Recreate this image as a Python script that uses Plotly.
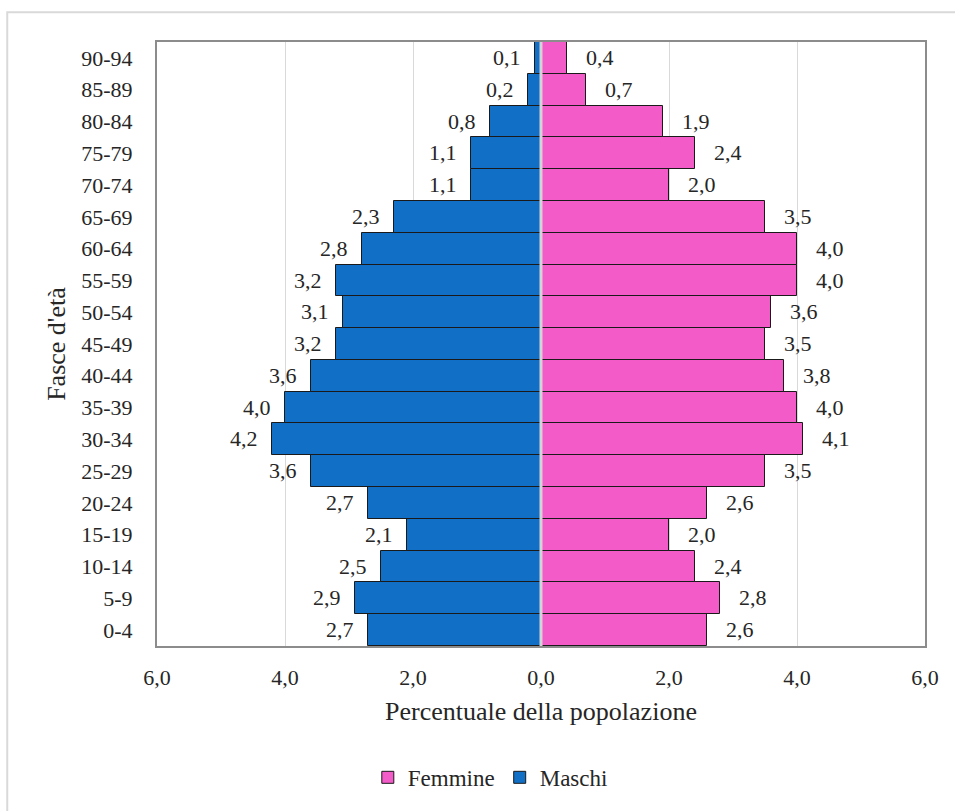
import plotly.graph_objects as go

categorie = ["0-4", "5-9", "10-14", "15-19", "20-24", "25-29", "30-34", "35-39",
             "40-44", "45-49", "50-54", "55-59", "60-64", "65-69", "70-74",
             "75-79", "80-84", "85-89", "90-94"]
maschi = [2.7, 2.9, 2.5, 2.1, 2.7, 3.6, 4.2, 4.0, 3.6, 3.2, 3.1, 3.2, 2.8, 2.3,
          1.1, 1.1, 0.8, 0.2, 0.1]
femmine = [2.6, 2.8, 2.4, 2.0, 2.6, 3.5, 4.1, 4.0, 3.8, 3.5, 3.6, 4.0, 4.0, 3.5,
           2.0, 2.4, 1.9, 0.7, 0.4]
tick_vals = [-6, -4, -2, 0, 2, 4, 6]
tick_text = ["6,0", "4,0", "2,0", "0,0", "2,0", "4,0", "6,0"]

FONT = "Times New Roman"
NB_R = "\u00a0\u00a0\u00a0"
NB_L = "\u00a0\u00a0"


def fmt(v):
    return f"{v:.1f}".replace(".", ",")


fig = go.Figure()
fig.add_trace(go.Bar(
    y=categorie, x=femmine, orientation="h", name="Femmine",
    marker=dict(color="#F35BC9", line=dict(color="#1a1a1a", width=1)),
    text=[NB_R + fmt(v) for v in femmine], textposition="outside",
    constraintext="none", cliponaxis=False,
    textfont=dict(family=FONT, size=22, color="#262626"),
))
fig.add_trace(go.Bar(
    y=categorie, x=[-v for v in maschi], orientation="h", name="Maschi",
    marker=dict(color="#1170C6", line=dict(color="#1a1a1a", width=1)),
    text=[fmt(v) + NB_L for v in maschi], textposition="outside",
    constraintext="none", cliponaxis=False,
    textfont=dict(family=FONT, size=22, color="#262626"),
))

fig.add_shape(type="line", xref="x", yref="paper", x0=0, x1=0, y0=0, y1=1,
              line=dict(color="#d4d4d4", width=3), layer="above")
fig.add_shape(type="rect", xref="paper", yref="paper",
              x0=-0.195, x1=1.2, y0=-0.4, y1=1.0494,
              line=dict(color="#d9d9d9", width=2), layer="below")

fig.update_layout(
    width=955, height=811,
    margin=dict(l=157, r=30, t=42, b=162),
    paper_bgcolor="white", plot_bgcolor="white",
    barmode="overlay", bargap=0,
    font=dict(family=FONT, size=22, color="#262626"),
    showlegend=True,
    legend=dict(orientation="h", x=0.434, xanchor="center", y=-0.2175,
                yanchor="middle", font=dict(family=FONT, size=23, color="#262626"),
                traceorder="normal", itemwidth=30, tracegroupgap=0),
)
fig.update_xaxes(
    range=[-6, 6], tickvals=tick_vals, ticktext=tick_text,
    showgrid=True, gridcolor="#d9d9d9", gridwidth=1, zeroline=False,
    showline=True, linecolor="#8c8c8c", linewidth=2, mirror=True,
    ticks="", ticklabelstandoff=11,
    tickfont=dict(family=FONT, size=22, color="#262626"),
    title=dict(text="Percentuale della popolazione", standoff=12,
               font=dict(family=FONT, size=26, color="#262626")),
)
fig.update_yaxes(
    categoryorder="array", categoryarray=categorie,
    showgrid=False, zeroline=False,
    showline=True, linecolor="#8c8c8c", linewidth=2, mirror=True,
    ticks="", ticklabelstandoff=18,
    tickfont=dict(family=FONT, size=22, color="#262626"),
    title=dict(text="Fasce d'età", standoff=8,
               font=dict(family=FONT, size=26, color="#262626")),
)

fig.write_html("out.html")
